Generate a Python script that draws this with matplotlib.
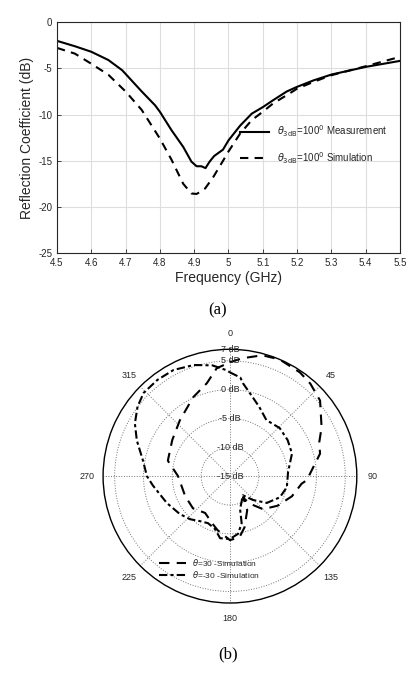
import numpy as np
import matplotlib.pyplot as plt

# (a) reflection coefficient
freq_meas = [4.5, 4.552, 4.6, 4.65, 4.69, 4.7, 4.747, 4.786, 4.8, 4.834, 4.868, 4.892, 4.907, 4.921, 4.933,
             4.945, 4.958, 4.984, 5.0, 5.034, 5.068, 5.1, 5.13, 5.17, 5.2, 5.248, 5.3, 5.4, 5.5]
s11_meas = [-2.02, -2.6, -3.2, -4.1, -5.2, -5.6, -7.5, -9.0, -9.7, -11.7, -13.5, -15.1, -15.6, -15.6, -15.8,
            -15.1, -14.5, -13.8, -12.8, -11.2, -9.9, -9.2, -8.45, -7.5, -7.0, -6.3, -5.67, -4.84, -4.19]
freq_sim = [4.5, 4.552, 4.6, 4.65, 4.7, 4.747, 4.8, 4.834, 4.868, 4.892, 4.907, 4.921, 4.932, 4.956, 4.985,
            5.0, 5.034, 5.068, 5.1, 5.13, 5.17, 5.2, 5.248, 5.3, 5.4, 5.5]
s11_sim = [-2.78, -3.4, -4.5, -5.7, -7.5, -9.5, -12.6, -14.9, -17.5, -18.55, -18.6, -18.3, -18.0, -16.75, -14.95,
           -14.0, -12.06, -10.6, -9.7, -8.8, -7.9, -7.2, -6.46, -5.74, -4.77, -3.75]

# (b) radiation patterns, angle in degrees (clockwise from top), gain in dB
ang_p30 = [0, 6, 15, 23, 34, 41, 50, 62, 69, 76, 93, 96, 108, 122, 135, 146, 148, 153, 164, 171, 180, 193, 201, 214, 229, 246, 270, 284, 302, 318, 335, 346, 353, 360]
gain_p30 = [4.75, 5.56, 6.7, 7.0, 6.7, 6.25, 5.4, 3.0, 1.6, 1.1, -1.66, -2.5, -3.7, -5.3, -6.9, -9.4, -10.7, -8.4, -5.8, -4.3, -3.9, -5.4, -6.3, -7.3, -6.5, -6.5, -6.0, -3.9, -3.2, -2.0, 0.1, 1.6, 3.85, 4.75]
ang_m30 = [0, 6, 8, 16, 23, 33, 46, 58, 70, 86, 101, 113, 126, 136, 146, 163, 166, 172, 180, 189, 196, 205, 214, 223, 233, 247, 263, 270, 280, 291, 299, 307, 314, 323, 332, 342, 351, 358, 360]
gain_m30 = [3.0, 2.2, 1.26, -0.74, -1.97, -3.4, -3.0, -3.2, -3.55, -4.9, -4.95, -5.6, -7.1, -9.25, -11.0, -9.0, -6.6, -4.9, -4.1, -4.1, -5.5, -6.0, -5.6, -4.8, -4.1, -3.1, -1.55, -0.6, 0.3, 2.3, 3.85, 5.06, 5.8, 5.9, 5.85, 5.27, 4.45, 3.4, 3.0]
r_ticks = [-15, -10, -5, 0, 5, 7]

txt = '#262626'
plt.rcParams['axes.unicode_minus'] = False
fig = plt.figure(figsize=(4.19, 6.73), dpi=100)
plt.rcParams['font.family'] = ['Liberation Sans', 'DejaVu Sans']

# ---- top plot
ax = fig.add_axes([0.136, 0.624, 0.8186, 0.343])
ax.plot(freq_meas, s11_meas, '-', color='k', lw=1.5,
        label=r'$\theta_{\rm 3dB}$=100$^0$ Measurement')
ax.plot(freq_sim, s11_sim, color='k', lw=1.5, ls=(0, (4, 3)),
        label=r'$\theta_{\rm 3dB}$=100$^0$ Simulation')
ax.set_xlim(4.5, 5.5)
ax.set_ylim(-25, 0)
ax.set_xticks(np.arange(4.5, 5.51, 0.1))
ax.set_xticklabels(['4.5', '4.6', '4.7', '4.8', '4.9', '5', '5.1', '5.2', '5.3', '5.4', '5.5'])
ax.set_yticks([-25, -20, -15, -10, -5, 0])
ax.grid(True, color='#dedede', lw=0.8)
ax.tick_params(direction='in', labelsize=7, colors=txt, length=3, width=0.6)
for s in ax.spines.values():
    s.set_color(txt)
    s.set_linewidth(0.8)
ax.set_xlabel('Frequency (GHz)', fontsize=10, color=txt, labelpad=2)
ax.set_ylabel('Reflection Coefficient (dB)', fontsize=10, color=txt, labelpad=3)
leg = ax.legend(loc='center right', bbox_to_anchor=(0.99, 0.47), frameon=False,
                fontsize=7, handlelength=3, labelspacing=1.1)
for t in leg.get_texts():
    t.set_color(txt)
fig.text(0.52, 0.539, '(a)', family='Liberation Serif', fontsize=12, ha='center', va='center')

# ---- polar plot
pax = fig.add_axes([0.2458, 0.104, 0.606, 0.377], projection='polar')
pax.set_theta_zero_location('N')
pax.set_theta_direction(-1)
pax.set_rlim(-15, 7)
pax.plot(np.deg2rad(ang_p30), gain_p30, color='k', lw=1.5, ls=(0, (5, 3.5)),
         label=r'$\theta$=30 -Simulation')
pax.plot(np.deg2rad(ang_m30), gain_m30, color='k', lw=1.5, ls=(0, (4, 1.5, 1.5, 1.5)),
         label=r'$\theta$=-30 -Simulation')
pax.set_yticks([-10, -5, 0, 5])
pax.set_yticklabels([])
pax.set_xticks(np.deg2rad(np.arange(0, 360, 45)))
pax.set_xticklabels(['0', '45', '90', '135', '180', '225', '270', '315'])
pax.tick_params(axis='x', labelsize=6.5, colors=txt, pad=1)
pax.grid(True, color='0.45', ls=':', lw=0.7)
pax.spines['polar'].set_color('k')
pax.spines['polar'].set_linewidth(1.0)
for r in r_ticks:
    pax.text(0, r, f'{r} dB', fontsize=6.5, color=txt, ha='center', va='center')
pleg = pax.legend(loc='lower center', bbox_to_anchor=(0.42, 0.075), frameon=False,
                  fontsize=6, handlelength=3.2, labelspacing=0.15, borderpad=0)
for t in pleg.get_texts():
    t.set_color(txt)
fig.text(0.545, 0.027, '(b)', family='Liberation Serif', fontsize=12, ha='center', va='center')

fig.savefig('out.png', dpi=100)
